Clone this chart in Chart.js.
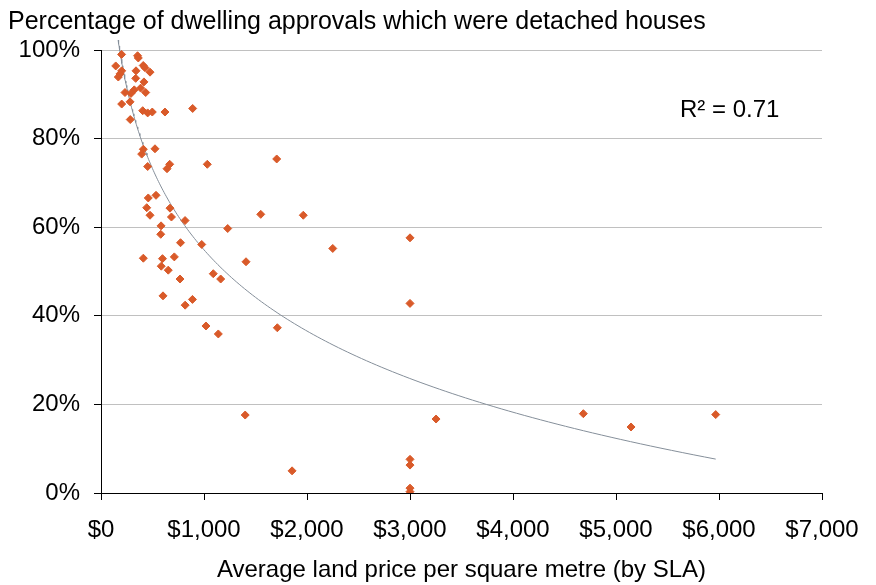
<!DOCTYPE html>
<html><head><meta charset="utf-8">
<script src="https://cdn.jsdelivr.net/npm/chart.js@4/dist/chart.umd.min.js"></script>
<style>html,body{margin:0;padding:0;background:#fff}</style>
</head><body>
<canvas id="c" width="876" height="585"></canvas>
<script>
// Average land price per square metre (by SLA), $
const landPrice = [200,355,362,143,410,427,201,340,476,184,168,337,417,233,323,385,434,291,201,282,
  405,453,498,621,890,284,411,395,524,453,667,641,1032,1706,534,459,444,670,476,684,
  816,1551,1964,583,1230,580,772,978,2250,411,597,712,1408,585,653,767,1090,1162,602,888,
  817,1019,1139,1712,3000,3000,1400,1855,3253,3000,3000,3000,3000,4683,5146,5968];
// Percentage of dwelling approvals which were detached houses, %
const detachedPct = [99.0,98.7,98.2,96.4,96.5,96.0,95.3,95.3,95.0,94.6,93.9,93.6,92.8,90.4,91.0,91.4,90.4,90.2,87.8,88.3,
  86.3,85.8,86.0,86.0,86.8,84.3,77.6,76.5,77.7,73.7,74.2,73.2,74.2,75.4,67.2,66.6,64.4,64.3,62.7,62.3,
  61.5,62.9,62.7,60.3,59.7,58.4,56.5,56.1,55.2,53.0,52.9,53.3,52.2,51.2,50.3,48.3,49.5,48.3,44.5,43.7,
  42.4,37.7,35.9,37.3,57.6,42.8,17.6,5.0,16.7,7.6,6.3,1.1,0.3,17.9,14.9,17.7];
const xTickValues = [0,1000,2000,3000,4000,5000,6000,7000];
const yTickValues = [0,20,40,60,80,100];
const chartTitle = 'Percentage of dwelling approvals which were detached houses';
const xAxisTitle = 'Average land price per square metre (by SLA)';
const r2Label = 'R\u00b2 = 0.71';

const FONT = '"Liberation Sans", Arial, sans-serif';

// Logarithmic trendline fitted (least squares) to the data above
const lnX = landPrice.map(v => Math.log(v));
const n = lnX.length;
const mx = lnX.reduce((a,b)=>a+b,0)/n;
const my = detachedPct.reduce((a,b)=>a+b,0)/n;
let sxy = 0, sxx = 0;
for (let i=0;i<n;i++){ sxy += (lnX[i]-mx)*(detachedPct[i]-my); sxx += (lnX[i]-mx)**2; }
const slope = sxy/sxx, intercept = my - slope*mx;
const xmin = Math.min(...landPrice), xmax = Math.max(...landPrice);
const trend = [];
for (let i=0;i<=200;i++){
  const x = xmin * Math.pow(xmax/xmin, i/200);
  trend.push({x, y: intercept + slope*Math.log(x)});
}

const points = landPrice.map((x,i)=>({x, y: detachedPct[i]}));

const r2Plugin = {
  id: 'r2',
  afterDatasetsDraw(chart){
    const {ctx, chartArea} = chart;
    ctx.save();
    ctx.font = '24px ' + FONT;
    ctx.fillStyle = '#000';
    ctx.textBaseline = 'middle';
    ctx.textAlign = 'left';
    ctx.fillText(r2Label, chartArea.right - 142, chartArea.top + 60);
    ctx.restore();
  }
};

new Chart(document.getElementById('c'), {
  type: 'scatter',
  data: {
    datasets: [
      { label: 'Trend', type: 'line', data: trend, borderColor: '#858f9a', borderWidth: 1,
        pointRadius: 0, fill: false, tension: 0, clip: {left: 0, right: 0, bottom: 0, top: 10}, order: 2 },
      { label: 'SLA', data: points, pointStyle: 'rectRot', pointRadius: 4,
        backgroundColor: '#d95a29', borderColor: '#d95a29', borderWidth: 1, order: 1 }
    ]
  },
  options: {
    responsive: false,
    animation: false,
    devicePixelRatio: 1,
    layout: { padding: { left: 8, right: 54, top: 0, bottom: 0 } },
    plugins: {
      legend: { display: false },
      tooltip: { enabled: false },
      title: { display: true, text: chartTitle, align: 'start', color: '#000',
        font: { family: FONT, size: 25, weight: 'normal', lineHeight: 1.2 }, padding: { top: 7, bottom: 13 } }
    },
    scales: {
      x: {
        type: 'linear', min: 0, max: 7000,
        afterBuildTicks: s => { s.ticks = xTickValues.map(v => ({value: v})); },
        afterFit: s => { s.height = 92; },
        ticks: { color: '#000', font: { family: FONT, size: 24 }, padding: 16,
          callback: v => '$' + v.toLocaleString('en-US') },
        grid: { drawOnChartArea: false, drawTicks: true, tickLength: 7, tickColor: '#000' },
        border: { display: true, color: '#000', width: 1 },
        title: { display: true, text: xAxisTitle, color: '#000',
          font: { family: FONT, size: 24 }, padding: { top: 4, bottom: 0 } }
      },
      y: {
        type: 'linear', min: 0, max: 100,
        afterBuildTicks: s => { s.ticks = yTickValues.map(v => ({value: v})); },
        afterFit: s => { s.width = 93; },
        ticks: { color: '#000', font: { family: FONT, size: 24 }, padding: 14,
          callback: v => v + '%' },
        grid: { color: c => (c.tick && c.tick.value === 0) ? 'rgba(0,0,0,0)' : '#c0c0c0',
          lineWidth: 1, drawTicks: true, tickLength: 7, tickColor: '#000' },
        border: { display: true, color: '#000', width: 1 }
      }
    }
  },
  plugins: [r2Plugin]
});
</script>
</body></html>
